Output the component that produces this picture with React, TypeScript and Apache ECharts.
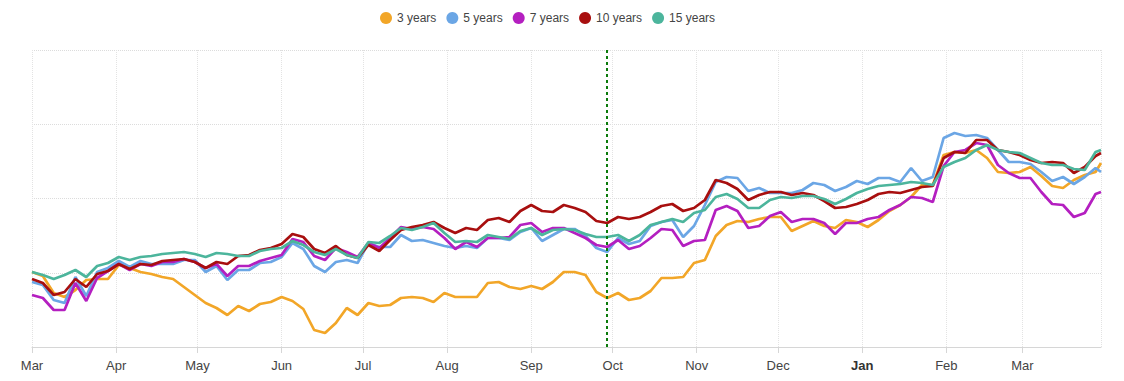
import React, { useEffect, useRef } from "react";
import * as echarts from "echarts";

const dates = [
  "2022-03-01", "2022-03-05", "2022-03-09", "2022-03-13", "2022-03-17", "2022-03-21", "2022-03-25", "2022-03-29",
  "2022-04-02", "2022-04-06", "2022-04-10", "2022-04-14", "2022-04-18", "2022-04-22", "2022-04-26", "2022-04-30",
  "2022-05-04", "2022-05-08", "2022-05-12", "2022-05-16", "2022-05-20", "2022-05-24", "2022-05-28",
  "2022-06-01", "2022-06-05", "2022-06-09", "2022-06-13", "2022-06-17", "2022-06-21", "2022-06-25", "2022-06-29",
  "2022-07-03", "2022-07-07", "2022-07-11", "2022-07-15", "2022-07-19", "2022-07-23", "2022-07-27", "2022-07-31",
  "2022-08-04", "2022-08-08", "2022-08-12", "2022-08-16", "2022-08-20", "2022-08-24", "2022-08-28",
  "2022-09-01", "2022-09-05", "2022-09-09", "2022-09-13", "2022-09-17", "2022-09-21", "2022-09-25", "2022-09-29",
  "2022-10-03", "2022-10-07", "2022-10-11", "2022-10-15", "2022-10-19", "2022-10-23", "2022-10-27", "2022-10-31",
  "2022-11-04", "2022-11-08", "2022-11-12", "2022-11-16", "2022-11-20", "2022-11-24", "2022-11-28",
  "2022-12-02", "2022-12-06", "2022-12-10", "2022-12-14", "2022-12-18", "2022-12-22", "2022-12-26", "2022-12-30",
  "2023-01-03", "2023-01-07", "2023-01-11", "2023-01-15", "2023-01-19", "2023-01-23", "2023-01-27", "2023-01-31",
  "2023-02-04", "2023-02-08", "2023-02-12", "2023-02-16", "2023-02-20", "2023-02-24", "2023-02-28",
  "2023-03-04", "2023-03-08", "2023-03-12", "2023-03-16", "2023-03-20", "2023-03-24", "2023-03-28", "2023-03-30",
];

const years3 = [
  75, 71, 54, 50, 57, 67, 68, 68,
  82, 79, 75, 73, 70, 68, 60, 52,
  44, 39, 32, 41, 36, 43, 45,
  50, 46, 38, 17, 14, 24, 39, 32,
  44, 41, 42, 49, 50, 49, 45, 54,
  50, 50, 50, 64, 65, 60, 58,
  61, 58, 65, 75, 75, 72, 55, 49,
  54, 47, 49, 56, 69, 69, 70, 84,
  87, 111, 122, 126, 125, 128, 130,
  130, 116, 121, 126, 121, 119, 127, 125,
  120, 127, 136, 142, 150, 162, 162, 192,
  195, 194, 197, 189, 175, 174, 175,
  180, 171, 161, 159, 167, 172, 175, 184,
];

const years5 = [
  65, 62, 47, 44, 70, 51, 75, 79,
  86, 80, 86, 83, 83, 83, 87, 87,
  75, 81, 67, 77, 77, 84, 85,
  90, 104, 98, 81, 75, 85, 87, 84,
  104, 100, 100, 112, 106, 107, 104, 101,
  99, 101, 99, 109, 109, 107, 115,
  119, 106, 112, 118, 118, 111, 99, 95,
  109, 103, 106, 121, 125, 127, 110, 121,
  142, 165, 170, 169, 156, 159, 154,
  154, 154, 157, 164, 162, 156, 160, 166,
  163, 169, 169, 165, 179, 166, 170, 209,
  214, 211, 212, 209, 197, 185, 185,
  183, 175, 166, 170, 163, 170, 179, 175,
];

const years7 = [
  52, 49, 37, 37, 64, 46, 69, 76,
  83, 77, 83, 81, 85, 85, 88, 85,
  79, 83, 71, 81, 81, 86, 89,
  92, 108, 105, 91, 87, 99, 95, 90,
  104, 99, 109, 120, 118, 120, 118, 109,
  98, 105, 100, 109, 109, 110, 122,
  124, 115, 119, 119, 114, 109, 102, 100,
  107, 98, 101, 109, 118, 117, 101, 106,
  107, 137, 141, 136, 119, 121, 131,
  135, 125, 128, 128, 124, 113, 124, 124,
  128, 130, 137, 142, 150, 149, 145, 181,
  195, 197, 204, 202, 182, 174, 169,
  169, 155, 143, 142, 130, 134, 153, 155,
];

const years10 = [
  68, 64, 52, 55, 68, 60, 73, 76,
  83, 78, 83, 82, 86, 87, 88, 85,
  79, 85, 83, 91, 92, 97, 99,
  103, 113, 110, 98, 94, 101, 92, 89,
  102, 96, 107, 117, 120, 122, 125, 119,
  114, 119, 117, 127, 129, 125, 136,
  142, 136, 135, 142, 139, 135, 126, 124,
  130, 128, 130, 135, 141, 143, 136, 139,
  147, 167, 164, 158, 147, 152, 155,
  155, 152, 154, 152, 146, 139, 140, 143,
  147, 153, 155, 154, 157, 160, 161, 189,
  195, 194, 207, 207, 197, 195, 192,
  187, 184, 185, 184, 174, 180, 191, 194,
];

const years15 = [
  75, 72, 68, 72, 77, 70, 81, 84,
  90, 87, 90, 91, 93, 94, 95, 93,
  90, 94, 93, 91, 91, 96, 98,
  99, 106, 102, 95, 92, 98, 92, 89,
  105, 104, 111, 119, 117, 120, 124, 114,
  105, 106, 105, 112, 110, 108, 116,
  119, 112, 117, 118, 117, 113, 110, 110,
  112, 106, 112, 122, 125, 128, 125, 134,
  137, 150, 153, 148, 139, 139, 147,
  150, 149, 151, 151, 148, 143, 148, 154,
  158, 161, 162, 163, 165, 164, 162, 180,
  185, 189, 197, 202, 197, 195, 194,
  189, 184, 182, 182, 178, 177, 195, 197,
];

const seriesNames = ["3 years", "5 years", "7 years", "10 years", "15 years"];
const seriesValues = [years3, years5, years7, years10, years15];
const seriesColors = ["#f2a628", "#6ba6e5", "#b41fc0", "#a80f0f", "#4cb59c"];
const monthNames = ["Jan", "Feb", "Mar", "Apr", "May", "Jun", "Jul", "Aug", "Sep", "Oct", "Nov", "Dec"];
const markerDate = "2022-09-29";
const axisStart = "2022-03-01";
const axisEnd = "2023-03-30";

export default function App() {
  const ref = useRef<HTMLDivElement>(null);

  useEffect(() => {
    if (!ref.current) return;
    const chart = echarts.init(ref.current, undefined, { renderer: "svg" });
    const day = 86400000;
    const series: any[] = seriesNames.map((name, si) => ({
      name,
      type: "line",
      showSymbol: false,
      symbol: "circle",
      data: dates.map((d, i) => [d, seriesValues[si][i]]),
      lineStyle: { width: 2.7, color: seriesColors[si] },
      itemStyle: { color: seriesColors[si] },
      z: 2 + si,
    }));
    series[0].markLine = {
      silent: true,
      symbol: ["none", "none"],
      label: { show: false },
      lineStyle: { color: "#0b7a0b", type: [3, 3], width: 2 },
      data: [{ xAxis: markerDate }],
      z: 10,
    };
    chart.setOption({
      animation: false,
      textStyle: { fontFamily: "Arial, 'Liberation Sans', sans-serif" },
      legend: {
        top: 7,
        left: 375,
        icon: "circle",
        itemWidth: 12,
        itemHeight: 12,
        itemGap: 10,
        textStyle: { fontSize: 12, color: "#444" },
        data: seriesNames,
      },
      grid: { left: 32, right: 23, top: 50, bottom: 34, containLabel: false },
      xAxis: {
        type: "time",
        min: axisStart,
        max: axisEnd,
        minInterval: 28 * day,
        maxInterval: 31 * day,
        axisLine: { lineStyle: { color: "#d6d6d6" } },
        axisTick: { show: true, length: 6, lineStyle: { color: "#d6d6d6" } },
        splitLine: { show: true, lineStyle: { color: "#e3e3e3", type: "dotted" } },
        axisLabel: {
          color: "#444",
          fontSize: 13,
          margin: 12,
          hideOverlap: false,
          formatter: (val: number) => {
            const d = new Date(val);
            const m = monthNames[d.getMonth()];
            return d.getMonth() === 0 ? "{b|" + m + "}" : m;
          },
          rich: { b: { fontWeight: "bold", fontSize: 13, color: "#333" } },
        },
      },
      yAxis: {
        type: "value",
        min: 0,
        max: 297,
        interval: 74.25,
        axisLine: { show: false },
        axisTick: { show: false },
        axisLabel: { show: false },
        splitLine: { show: true, lineStyle: { color: "#dcdcdc", type: "dotted" } },
      },
      series,
    });
    return () => chart.dispose();
  }, []);

  return (
    <div
      ref={ref}
      style={{ position: "fixed", left: 0, top: 0, width: 1124, height: 381, background: "#fff" }}
    />
  );
}
